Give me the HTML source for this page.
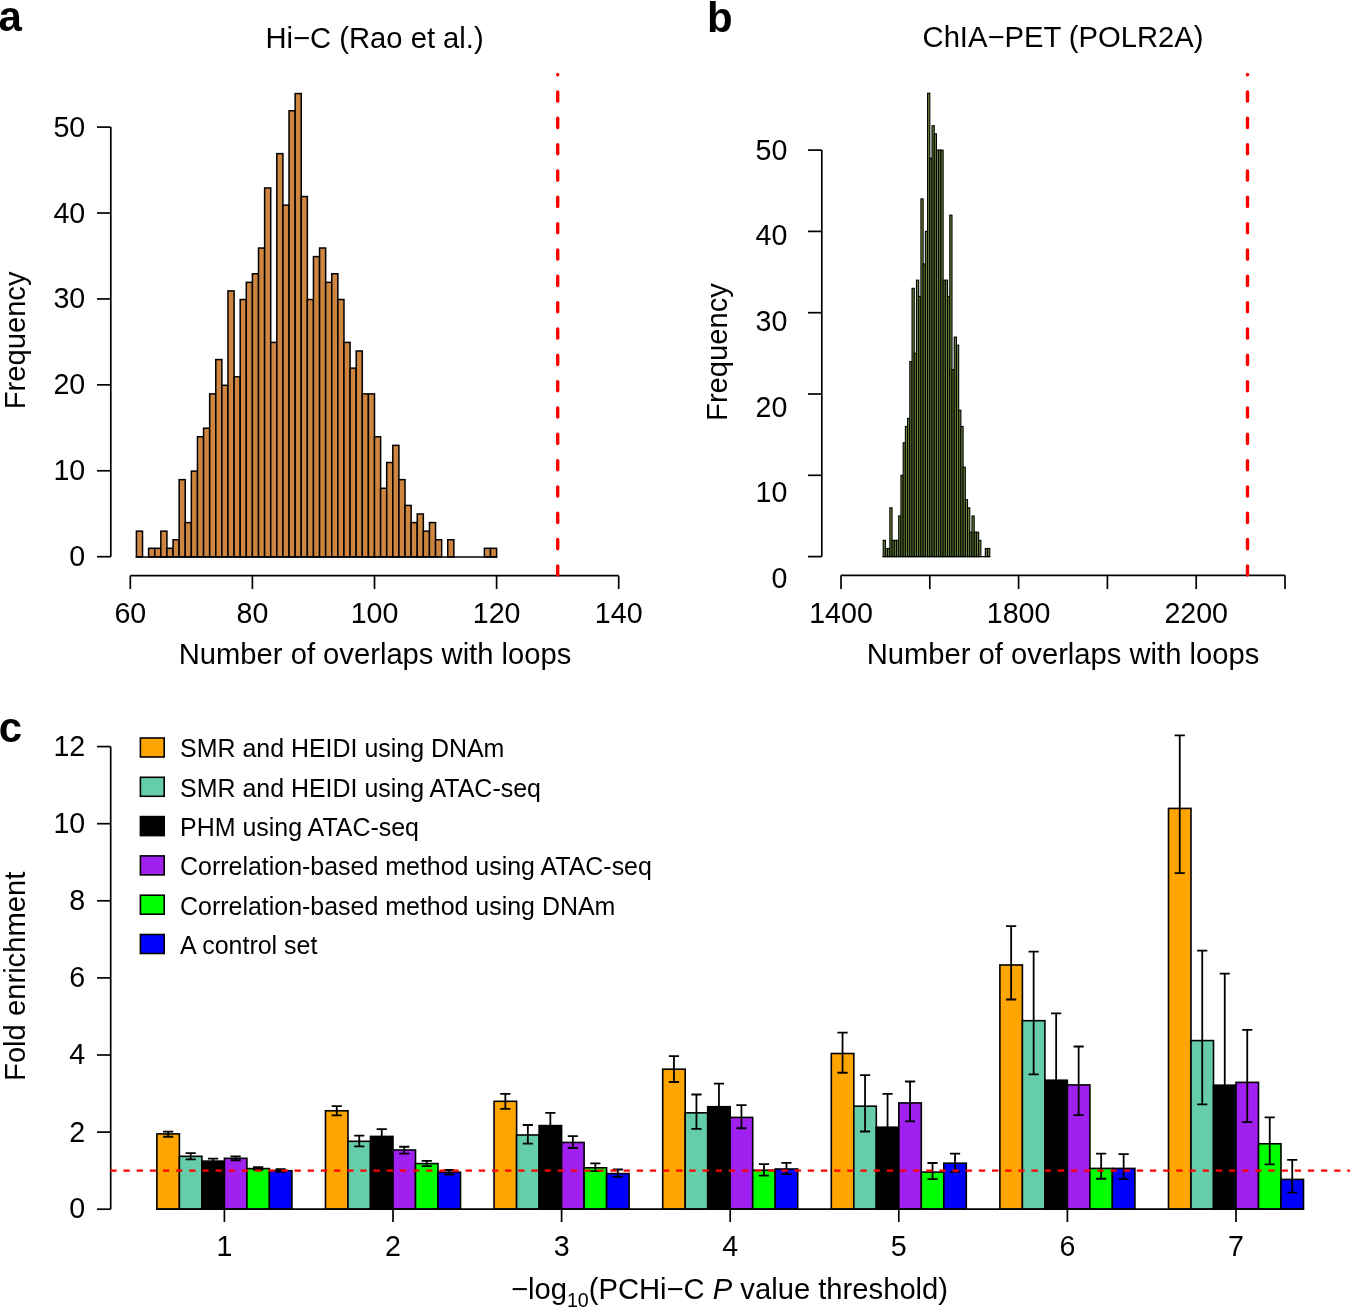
<!DOCTYPE html>
<html><head><meta charset="utf-8"><title>Figure</title>
<style>html,body{margin:0;padding:0;background:#fff;}svg{display:block;will-change:transform;}</style>
</head><body>
<svg width="1350" height="1308" viewBox="0 0 1350 1308"><g fill="#CD853F" stroke="#000" stroke-width="1.5"><rect x="136.41" y="531.16" width="6.11" height="25.74"/><rect x="148.62" y="548.32" width="6.11" height="8.58"/><rect x="154.72" y="548.32" width="6.10" height="8.58"/><rect x="160.83" y="531.16" width="6.10" height="25.74"/><rect x="166.93" y="548.32" width="6.11" height="8.58"/><rect x="173.04" y="539.74" width="6.10" height="17.16"/><rect x="179.14" y="479.68" width="6.10" height="77.22"/><rect x="185.25" y="522.58" width="6.11" height="34.32"/><rect x="191.35" y="471.10" width="6.10" height="85.80"/><rect x="197.46" y="436.78" width="6.10" height="120.12"/><rect x="203.56" y="428.20" width="6.11" height="128.70"/><rect x="209.67" y="393.88" width="6.10" height="163.02"/><rect x="215.77" y="359.56" width="6.10" height="197.34"/><rect x="221.88" y="385.30" width="6.11" height="171.60"/><rect x="227.98" y="290.92" width="6.11" height="265.98"/><rect x="234.09" y="376.72" width="6.10" height="180.18"/><rect x="240.19" y="299.50" width="6.10" height="257.40"/><rect x="246.30" y="282.34" width="6.11" height="274.56"/><rect x="252.40" y="273.76" width="6.10" height="283.14"/><rect x="258.50" y="248.02" width="6.11" height="308.88"/><rect x="264.61" y="187.96" width="6.11" height="368.94"/><rect x="270.72" y="342.40" width="6.11" height="214.50"/><rect x="276.82" y="153.64" width="6.10" height="403.26"/><rect x="282.93" y="205.12" width="6.11" height="351.78"/><rect x="289.03" y="110.74" width="6.10" height="446.16"/><rect x="295.13" y="93.58" width="6.11" height="463.32"/><rect x="301.24" y="196.54" width="6.11" height="360.36"/><rect x="307.35" y="299.50" width="6.11" height="257.40"/><rect x="313.45" y="256.60" width="6.11" height="300.30"/><rect x="319.56" y="248.02" width="6.10" height="308.88"/><rect x="325.66" y="282.34" width="6.10" height="274.56"/><rect x="331.76" y="273.76" width="6.11" height="283.14"/><rect x="337.87" y="299.50" width="6.11" height="257.40"/><rect x="343.98" y="342.40" width="6.11" height="214.50"/><rect x="350.08" y="368.14" width="6.11" height="188.76"/><rect x="356.19" y="350.98" width="6.10" height="205.92"/><rect x="362.29" y="393.88" width="6.11" height="163.02"/><rect x="368.40" y="393.88" width="6.10" height="163.02"/><rect x="374.50" y="436.78" width="6.11" height="120.12"/><rect x="380.61" y="488.26" width="6.11" height="68.64"/><rect x="386.71" y="462.52" width="6.11" height="94.38"/><rect x="392.82" y="445.36" width="6.10" height="111.54"/><rect x="398.92" y="479.68" width="6.11" height="77.22"/><rect x="405.03" y="505.42" width="6.11" height="51.48"/><rect x="411.13" y="522.58" width="6.10" height="34.32"/><rect x="417.24" y="514.00" width="6.11" height="42.90"/><rect x="423.34" y="531.16" width="6.11" height="25.74"/><rect x="429.45" y="522.58" width="6.10" height="34.32"/><rect x="435.55" y="539.74" width="6.11" height="17.16"/><rect x="447.76" y="539.74" width="6.10" height="17.16"/><rect x="484.39" y="548.32" width="6.11" height="8.58"/><rect x="490.50" y="548.32" width="6.10" height="8.58"/></g>
<line x1="135.66" y1="556.9" x2="497.35" y2="556.9" stroke="#000" stroke-width="1.5"/>
<g stroke="#000" stroke-width="1.7" fill="none">
<path d="M110.8,127.1 V556.7"/>
<path d="M97,556.70 H110.8"/>
<path d="M97,470.78 H110.8"/>
<path d="M97,384.86 H110.8"/>
<path d="M97,298.94 H110.8"/>
<path d="M97,213.02 H110.8"/>
<path d="M97,127.10 H110.8"/>
<path d="M130.30,575.7 H618.70"/>
<path d="M130.30,575.7 V589"/>
<path d="M252.40,575.7 V589"/>
<path d="M374.50,575.7 V589"/>
<path d="M496.60,575.7 V589"/>
<path d="M618.70,575.7 V589"/>
</g>
<path d="M557.7,575.1 V74.4" stroke="#FF0000" stroke-width="3.4" stroke-linecap="round" stroke-dasharray="9.2 17.13" fill="none"/>
<g font-family='"Liberation Sans", sans-serif' font-size="28.6" fill="#000">
<text transform="translate(85.20,565.60) scale(1,1.06)" text-anchor="end">0</text>
<text transform="translate(85.20,480.28) scale(1,1.06)" text-anchor="end">10</text>
<text transform="translate(85.20,394.36) scale(1,1.06)" text-anchor="end">20</text>
<text transform="translate(85.20,308.44) scale(1,1.06)" text-anchor="end">30</text>
<text transform="translate(85.20,222.52) scale(1,1.06)" text-anchor="end">40</text>
<text transform="translate(85.20,136.60) scale(1,1.06)" text-anchor="end">50</text>
<text transform="translate(130.30,623.40) scale(1,1.06)" text-anchor="middle">60</text>
<text transform="translate(252.40,623.40) scale(1,1.06)" text-anchor="middle">80</text>
<text transform="translate(374.50,623.40) scale(1,1.06)" text-anchor="middle">100</text>
<text transform="translate(496.60,623.40) scale(1,1.06)" text-anchor="middle">120</text>
<text transform="translate(618.70,623.40) scale(1,1.06)" text-anchor="middle">140</text>
</g>
<text x="374.6" y="48" font-family='"Liberation Sans", sans-serif' font-size="29.2" text-anchor="middle">Hi−C (Rao et al.)</text>
<text x="375.05" y="663.5" font-family='"Liberation Sans", sans-serif' font-size="29.2" text-anchor="middle">Number of overlaps with loops</text>
<text transform="translate(24.5,340.4) rotate(-90)" font-family='"Liberation Sans", sans-serif' font-size="29.2" text-anchor="middle">Frequency</text>
<g fill="#6E8B3D" stroke="#000" stroke-width="1.1"><rect x="883.180" y="540.34" width="2.220" height="16.26"/><rect x="885.400" y="548.47" width="2.220" height="8.13"/><rect x="887.620" y="548.47" width="2.220" height="8.13"/><rect x="889.840" y="507.82" width="2.220" height="48.78"/><rect x="892.060" y="540.34" width="2.220" height="16.26"/><rect x="894.280" y="540.34" width="2.220" height="16.26"/><rect x="896.500" y="540.34" width="2.220" height="16.26"/><rect x="898.720" y="515.95" width="2.220" height="40.65"/><rect x="900.940" y="475.30" width="2.220" height="81.30"/><rect x="903.160" y="442.78" width="2.220" height="113.82"/><rect x="905.380" y="426.52" width="2.220" height="130.08"/><rect x="907.600" y="418.39" width="2.220" height="138.21"/><rect x="909.820" y="361.48" width="2.220" height="195.12"/><rect x="912.040" y="288.31" width="2.220" height="268.29"/><rect x="914.260" y="353.35" width="2.220" height="203.25"/><rect x="916.480" y="280.18" width="2.220" height="276.42"/><rect x="918.700" y="296.44" width="2.220" height="260.16"/><rect x="920.920" y="198.88" width="2.220" height="357.72"/><rect x="923.140" y="263.92" width="2.220" height="292.68"/><rect x="925.360" y="231.40" width="2.220" height="325.20"/><rect x="927.580" y="93.19" width="2.220" height="463.41"/><rect x="929.800" y="158.23" width="2.220" height="398.37"/><rect x="932.020" y="125.71" width="2.220" height="430.89"/><rect x="934.240" y="133.84" width="2.220" height="422.76"/><rect x="936.460" y="150.10" width="2.220" height="406.50"/><rect x="938.680" y="150.10" width="2.220" height="406.50"/><rect x="940.900" y="150.10" width="2.220" height="406.50"/><rect x="943.120" y="280.18" width="2.220" height="276.42"/><rect x="945.340" y="280.18" width="2.220" height="276.42"/><rect x="947.560" y="296.44" width="2.220" height="260.16"/><rect x="949.780" y="215.14" width="2.220" height="341.46"/><rect x="952.000" y="369.61" width="2.220" height="186.99"/><rect x="954.220" y="337.09" width="2.220" height="219.51"/><rect x="956.440" y="345.22" width="2.220" height="211.38"/><rect x="958.660" y="410.26" width="2.220" height="146.34"/><rect x="960.880" y="426.52" width="2.220" height="130.08"/><rect x="963.100" y="467.17" width="2.220" height="89.43"/><rect x="965.320" y="499.69" width="2.220" height="56.91"/><rect x="967.540" y="507.82" width="2.220" height="48.78"/><rect x="969.760" y="532.21" width="2.220" height="24.39"/><rect x="971.980" y="515.95" width="2.220" height="40.65"/><rect x="974.200" y="532.21" width="2.220" height="24.39"/><rect x="976.420" y="532.21" width="2.220" height="24.39"/><rect x="978.640" y="540.34" width="2.220" height="16.26"/><rect x="985.300" y="548.47" width="2.220" height="8.13"/><rect x="987.520" y="548.47" width="2.220" height="8.13"/></g>
<line x1="882.58" y1="556.6" x2="990.34" y2="556.6" stroke="#000" stroke-width="1.15"/>
<g stroke="#000" stroke-width="1.7" fill="none">
<path d="M821.8,150.1 V556.6"/>
<path d="M808,556.60 H821.8"/>
<path d="M808,475.30 H821.8"/>
<path d="M808,394.00 H821.8"/>
<path d="M808,312.70 H821.8"/>
<path d="M808,231.40 H821.8"/>
<path d="M808,150.10 H821.8"/>
<path d="M841.00,575.3 H1285.00"/>
<path d="M841.00,575.3 V589"/>
<path d="M929.80,575.3 V589"/>
<path d="M1018.60,575.3 V589"/>
<path d="M1107.40,575.3 V589"/>
<path d="M1196.20,575.3 V589"/>
<path d="M1285.00,575.3 V589"/>
</g>
<path d="M1247.5,575.1 V74.4" stroke="#FF0000" stroke-width="3.4" stroke-linecap="round" stroke-dasharray="9.2 17.13" fill="none"/>
<g font-family='"Liberation Sans", sans-serif' font-size="28.6" fill="#000">
<text transform="translate(787.40,160.00) scale(1,1.06)" text-anchor="end">50</text>
<text transform="translate(787.40,245.40) scale(1,1.06)" text-anchor="end">40</text>
<text transform="translate(787.40,330.90) scale(1,1.06)" text-anchor="end">30</text>
<text transform="translate(787.40,416.70) scale(1,1.06)" text-anchor="end">20</text>
<text transform="translate(787.40,502.20) scale(1,1.06)" text-anchor="end">10</text>
<text transform="translate(787.40,588.00) scale(1,1.06)" text-anchor="end">0</text>
<text transform="translate(841.00,623.40) scale(1,1.06)" text-anchor="middle">1400</text>
<text transform="translate(1018.60,623.40) scale(1,1.06)" text-anchor="middle">1800</text>
<text transform="translate(1196.20,623.40) scale(1,1.06)" text-anchor="middle">2200</text>
</g>
<text x="1063" y="47.2" font-family='"Liberation Sans", sans-serif' font-size="29.2" text-anchor="middle">ChIA−PET (POLR2A)</text>
<text x="1063" y="663.5" font-family='"Liberation Sans", sans-serif' font-size="29.2" text-anchor="middle">Number of overlaps with loops</text>
<text transform="translate(726.7,352) rotate(-90)" font-family='"Liberation Sans", sans-serif' font-size="29.2" text-anchor="middle">Frequency</text>
<g stroke="#000" stroke-width="1.6"><rect x="156.90" y="1133.91" width="22.50" height="75.29" fill="#FFA500"/><rect x="179.40" y="1156.31" width="22.50" height="52.89" fill="#66CDAA"/><rect x="201.90" y="1161.09" width="22.50" height="48.11" fill="#000000"/><rect x="224.40" y="1158.31" width="22.50" height="50.89" fill="#A020F0"/><rect x="246.90" y="1168.61" width="22.50" height="40.59" fill="#00FF00"/><rect x="269.40" y="1170.65" width="22.50" height="38.55" fill="#0000FF"/><rect x="325.50" y="1110.78" width="22.50" height="98.42" fill="#FFA500"/><rect x="348.00" y="1141.31" width="22.50" height="67.89" fill="#66CDAA"/><rect x="370.50" y="1136.42" width="22.50" height="72.78" fill="#000000"/><rect x="393.00" y="1149.99" width="22.50" height="59.21" fill="#A020F0"/><rect x="415.50" y="1163.60" width="22.50" height="45.60" fill="#00FF00"/><rect x="438.00" y="1172.19" width="22.50" height="37.01" fill="#0000FF"/><rect x="494.10" y="1101.30" width="22.50" height="107.90" fill="#FFA500"/><rect x="516.60" y="1134.99" width="22.50" height="74.21" fill="#66CDAA"/><rect x="539.10" y="1125.59" width="22.50" height="83.61" fill="#000000"/><rect x="561.60" y="1142.43" width="22.50" height="66.77" fill="#A020F0"/><rect x="584.10" y="1167.80" width="22.50" height="41.40" fill="#00FF00"/><rect x="606.60" y="1173.58" width="22.50" height="35.62" fill="#0000FF"/><rect x="662.70" y="1069.19" width="22.50" height="140.01" fill="#FFA500"/><rect x="685.20" y="1112.83" width="22.50" height="96.38" fill="#66CDAA"/><rect x="707.70" y="1106.70" width="22.50" height="102.50" fill="#000000"/><rect x="730.20" y="1117.41" width="22.50" height="91.79" fill="#A020F0"/><rect x="752.70" y="1170.26" width="22.50" height="38.94" fill="#00FF00"/><rect x="775.20" y="1168.99" width="22.50" height="40.21" fill="#0000FF"/><rect x="831.30" y="1053.50" width="22.50" height="155.70" fill="#FFA500"/><rect x="853.80" y="1106.19" width="22.50" height="103.01" fill="#66CDAA"/><rect x="876.30" y="1127.20" width="22.50" height="82.00" fill="#000000"/><rect x="898.80" y="1102.92" width="22.50" height="106.28" fill="#A020F0"/><rect x="921.30" y="1172.11" width="22.50" height="37.09" fill="#00FF00"/><rect x="943.80" y="1163.21" width="22.50" height="45.99" fill="#0000FF"/><rect x="999.90" y="964.99" width="22.50" height="244.21" fill="#FFA500"/><rect x="1022.40" y="1020.69" width="22.50" height="188.51" fill="#66CDAA"/><rect x="1044.90" y="1080.21" width="22.50" height="128.99" fill="#000000"/><rect x="1067.40" y="1084.91" width="22.50" height="124.29" fill="#A020F0"/><rect x="1089.90" y="1168.41" width="22.50" height="40.79" fill="#00FF00"/><rect x="1112.40" y="1168.41" width="22.50" height="40.79" fill="#0000FF"/><rect x="1168.50" y="808.40" width="22.50" height="400.80" fill="#FFA500"/><rect x="1191.00" y="1040.58" width="22.50" height="168.62" fill="#66CDAA"/><rect x="1213.50" y="1085.18" width="22.50" height="124.02" fill="#000000"/><rect x="1236.00" y="1082.37" width="22.50" height="126.83" fill="#A020F0"/><rect x="1258.50" y="1143.78" width="22.50" height="65.42" fill="#00FF00"/><rect x="1281.00" y="1179.40" width="22.50" height="29.80" fill="#0000FF"/></g>
<path d="M168.15,1136.73 V1131.71 M163.05,1131.71 H173.25 M163.05,1136.73 H173.25 M190.65,1159.47 V1153.11 M185.55,1153.11 H195.75 M185.55,1159.47 H195.75 M213.15,1163.33 V1158.70 M208.05,1158.70 H218.25 M208.05,1163.33 H218.25 M235.65,1160.24 V1156.39 M230.55,1156.39 H240.75 M230.55,1160.24 H240.75 M258.15,1169.88 V1167.18 M253.05,1167.18 H263.25 M253.05,1169.88 H263.25 M280.65,1171.81 V1169.11 M275.55,1169.11 H285.75 M275.55,1171.81 H285.75 M336.75,1115.33 V1106.08 M331.65,1106.08 H341.85 M331.65,1115.33 H341.85 M359.25,1146.36 V1135.57 M354.15,1135.57 H364.35 M354.15,1146.36 H364.35 M381.75,1143.66 V1129.09 M376.65,1129.09 H386.85 M376.65,1143.66 H386.85 M404.25,1153.69 V1146.75 M399.15,1146.75 H409.35 M399.15,1153.69 H409.35 M426.75,1166.10 V1160.90 M421.65,1160.90 H431.85 M421.65,1166.10 H431.85 M449.25,1174.51 V1169.99 M444.15,1169.99 H454.35 M444.15,1174.51 H454.35 M505.35,1108.97 V1093.94 M500.25,1093.94 H510.45 M500.25,1108.97 H510.45 M527.85,1143.66 V1125.01 M522.75,1125.01 H532.95 M522.75,1143.66 H532.95 M550.35,1138.27 V1112.83 M545.25,1112.83 H555.45 M545.25,1138.27 H555.45 M572.85,1147.98 V1136.11 M567.75,1136.11 H577.95 M567.75,1147.98 H577.95 M595.35,1171.11 V1163.33 M590.25,1163.33 H600.45 M590.25,1171.11 H600.45 M617.85,1176.82 V1169.49 M612.75,1169.49 H622.95 M612.75,1176.82 H622.95 M673.95,1081.99 V1056.16 M668.85,1056.16 H679.05 M668.85,1081.99 H679.05 M696.45,1128.90 V1094.51 M691.35,1094.51 H701.55 M691.35,1128.90 H701.55 M718.95,1129.79 V1083.60 M713.85,1083.60 H724.05 M713.85,1129.79 H724.05 M741.45,1128.25 V1105.12 M736.35,1105.12 H746.55 M736.35,1128.25 H746.55 M763.95,1175.66 V1164.10 M758.85,1164.10 H769.05 M758.85,1175.66 H769.05 M786.45,1174.12 V1162.94 M781.35,1162.94 H791.55 M781.35,1174.12 H791.55 M842.55,1072.73 V1032.64 M837.45,1032.64 H847.65 M837.45,1072.73 H847.65 M865.05,1131.48 V1075.20 M859.95,1075.20 H870.15 M859.95,1131.48 H870.15 M887.55,1160.63 V1093.94 M882.45,1093.94 H892.65 M882.45,1160.63 H892.65 M910.05,1121.38 V1081.48 M904.95,1081.48 H915.15 M904.95,1121.38 H915.15 M932.55,1179.21 V1163.02 M927.45,1163.02 H937.65 M927.45,1179.21 H937.65 M955.05,1171.81 V1153.69 M949.95,1153.69 H960.15 M949.95,1171.81 H960.15 M1011.15,999.49 V926.09 M1006.05,926.09 H1016.25 M1006.05,999.49 H1016.25 M1033.65,1074.28 V951.69 M1028.55,951.69 H1038.75 M1028.55,1074.28 H1038.75 M1056.15,1147.52 V1013.37 M1051.05,1013.37 H1061.25 M1051.05,1147.52 H1061.25 M1078.65,1115.14 V1046.52 M1073.55,1046.52 H1083.75 M1073.55,1115.14 H1083.75 M1101.15,1178.75 V1153.69 M1096.05,1153.69 H1106.25 M1096.05,1178.75 H1106.25 M1123.65,1179.13 V1154.07 M1118.55,1154.07 H1128.75 M1118.55,1179.13 H1128.75 M1179.75,873.04 V735.42 M1174.65,735.42 H1184.85 M1174.65,873.04 H1184.85 M1202.25,1104.34 V950.68 M1197.15,950.68 H1207.35 M1197.15,1104.34 H1207.35 M1224.75,1196.48 V973.66 M1219.65,973.66 H1229.85 M1219.65,1196.48 H1229.85 M1247.25,1122.08 V1029.94 M1242.15,1029.94 H1252.35 M1242.15,1122.08 H1252.35 M1269.75,1164.40 V1117.30 M1264.65,1117.30 H1274.85 M1264.65,1164.40 H1274.85 M1292.25,1192.62 V1159.89 M1287.15,1159.89 H1297.35 M1287.15,1192.62 H1297.35" stroke="#000" stroke-width="1.8" fill="none"/>
<g stroke="#000" stroke-width="1.7" fill="none">
<path d="M110.7,746.8 V1209.2"/>
<path d="M97,1209.20 H110.7"/>
<path d="M97,1132.10 H110.7"/>
<path d="M97,1055.00 H110.7"/>
<path d="M97,977.90 H110.7"/>
<path d="M97,900.80 H110.7"/>
<path d="M97,823.70 H110.7"/>
<path d="M97,746.60 H110.7"/>
<path d="M156.90,1209.2 H1303.50"/>
<path d="M224.40,1209.2 V1222"/>
<path d="M393.00,1209.2 V1222"/>
<path d="M561.60,1209.2 V1222"/>
<path d="M730.20,1209.2 V1222"/>
<path d="M898.80,1209.2 V1222"/>
<path d="M1067.40,1209.2 V1222"/>
<path d="M1236.00,1209.2 V1222"/>
</g>
<path d="M110.3,1170.6 H1350" stroke="#FF0000" stroke-width="2.1" stroke-dasharray="6.3 6.86" fill="none"/>
<g font-family='"Liberation Sans", sans-serif' font-size="28.6" fill="#000">
<text transform="translate(85.20,1218.20) scale(1,1.06)" text-anchor="end">0</text>
<text transform="translate(85.20,1141.50) scale(1,1.06)" text-anchor="end">2</text>
<text transform="translate(85.20,1064.40) scale(1,1.06)" text-anchor="end">4</text>
<text transform="translate(85.20,987.30) scale(1,1.06)" text-anchor="end">6</text>
<text transform="translate(85.20,910.20) scale(1,1.06)" text-anchor="end">8</text>
<text transform="translate(85.20,833.10) scale(1,1.06)" text-anchor="end">10</text>
<text transform="translate(85.20,756.00) scale(1,1.06)" text-anchor="end">12</text>
<text transform="translate(224.40,1256.20) scale(1,1.06)" text-anchor="middle">1</text>
<text transform="translate(393.00,1256.20) scale(1,1.06)" text-anchor="middle">2</text>
<text transform="translate(561.60,1256.20) scale(1,1.06)" text-anchor="middle">3</text>
<text transform="translate(730.20,1256.20) scale(1,1.06)" text-anchor="middle">4</text>
<text transform="translate(898.80,1256.20) scale(1,1.06)" text-anchor="middle">5</text>
<text transform="translate(1067.40,1256.20) scale(1,1.06)" text-anchor="middle">6</text>
<text transform="translate(1236.00,1256.20) scale(1,1.06)" text-anchor="middle">7</text>
</g>
<rect x="140.4" y="738.00" width="23.8" height="19.0" fill="#FFA500" stroke="#000" stroke-width="1.6"/>
<text x="180.1" y="757.30" font-family='"Liberation Sans", sans-serif' font-size="24.95">SMR and HEIDI using DNAm</text>
<rect x="140.4" y="777.30" width="23.8" height="19.0" fill="#66CDAA" stroke="#000" stroke-width="1.6"/>
<text x="180.1" y="796.60" font-family='"Liberation Sans", sans-serif' font-size="24.95">SMR and HEIDI using ATAC-seq</text>
<rect x="140.4" y="816.60" width="23.8" height="19.0" fill="#000000" stroke="#000" stroke-width="1.6"/>
<text x="180.1" y="835.90" font-family='"Liberation Sans", sans-serif' font-size="24.95">PHM using ATAC-seq</text>
<rect x="140.4" y="855.90" width="23.8" height="19.0" fill="#A020F0" stroke="#000" stroke-width="1.6"/>
<text x="180.1" y="875.20" font-family='"Liberation Sans", sans-serif' font-size="24.95">Correlation-based method using ATAC-seq</text>
<rect x="140.4" y="895.20" width="23.8" height="19.0" fill="#00FF00" stroke="#000" stroke-width="1.6"/>
<text x="180.1" y="914.50" font-family='"Liberation Sans", sans-serif' font-size="24.95">Correlation-based method using DNAm</text>
<rect x="140.4" y="934.50" width="23.8" height="19.0" fill="#0000FF" stroke="#000" stroke-width="1.6"/>
<text x="180.1" y="953.80" font-family='"Liberation Sans", sans-serif' font-size="24.95">A control set</text>
<text transform="translate(24.6,976.3) rotate(-90)" font-family='"Liberation Sans", sans-serif' font-size="29.2" text-anchor="middle">Fold enrichment</text>
<text x="729.5" y="1299.1" font-family='"Liberation Sans", sans-serif' font-size="29.2" text-anchor="middle">−log<tspan font-size="19.6" dy="7.6">10</tspan><tspan dy="-7.6">(PCHi−C </tspan><tspan font-style="italic">P</tspan> value threshold)</text>
<g font-family='"Liberation Sans", sans-serif' font-size="42" font-weight="bold">
<text x="-1.5" y="30.9">a</text>
<text x="707" y="31.5">b</text>
<text x="-1.2" y="741.6">c</text>
</g></svg>
</body></html>
